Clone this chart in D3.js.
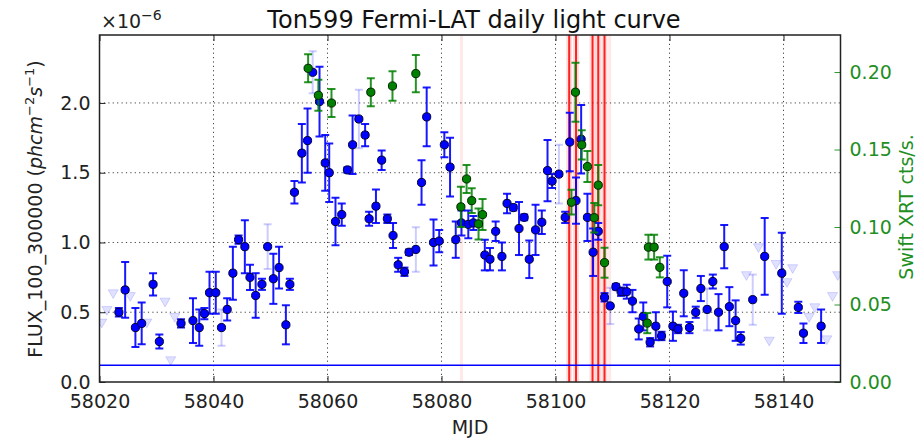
<!DOCTYPE html>
<html>
<head>
<meta charset="utf-8">
<script src="https://cdn.jsdelivr.net/npm/d3@7"></script>
<style>
  body { margin: 0; background: #fff; }
  svg { display: block; }
  text { font-family: "DejaVu Sans", sans-serif; }
</style>
</head>
<body>
<svg id="chart" width="916" height="443"></svg>
<script>
// Fermi-LAT daily fluxes (units of 1e-6 ph cm^-2 s^-1), significant detections
const fermiMjd = [58023.4,58024.5,58026.3,58027.4,58029.4,58030.5,58034.3,58036.4,58037.5,58038.4,
  58039.3,58040.4,58042.4,58043.4,58044.4,58045.5,58046.4,58047.4,58048.5,58050.5,
  58051.5,58052.7,58053.4,58054.2,58055.5,58056.5,58058.6,58059.6,58060.3,58061.4,
  58062.5,58063.5,58064.4,58066.6,58067.3,58068.5,58069.5,58070.5,58071.5,58072.4,
  58073.5,58074.3,58076.5,58077.4,58078.6,58079.6,58080.5,58081.5,58082.5,58083.5,
  58084.7,58085.6,58087.6,58088.5,58089.5,58090.6,58091.5,58092.6,58093.6,58094.5,
  58095.4,58096.5,58097.6,58098.6,58099.4,58101.7,58102.5,58103.6,58104.5,58105.6,
  58106.6,58107.5,58108.6,58110.6,58111.5,58112.5,58113.5,58114.6,58115.4,58116.6,
  58117.6,58118.6,58119.6,58120.6,58121.5,58122.5,58123.5,58124.6,58125.5,58127.6,
  58128.6,58129.6,58130.5,58131.6,58132.5,58136.7,58139.7,58142.6,58143.5,58146.6];
const fermiFlux = [0.50,0.66,0.39,0.42,0.70,0.29,0.42,0.44,0.39,0.49,
  0.64,0.64,0.52,0.78,1.02,0.97,0.75,0.62,0.70,0.74,
  0.82,0.41,0.70,1.36,1.64,1.73,2.01,1.57,1.50,1.15,
  1.20,1.52,1.70,1.77,1.17,1.26,1.59,1.17,1.05,0.84,
  0.79,0.93,1.43,1.90,1.00,1.01,1.70,1.54,1.02,1.14,
  1.13,1.14,0.91,0.88,1.08,0.90,1.28,1.25,1.10,1.18,
  0.88,1.09,1.145,1.515,1.44,1.18,1.72,1.30,1.74,1.18,
  0.93,1.08,0.607,0.683,0.647,0.647,0.58,0.38,0.47,0.285,
  0.40,0.33,0.72,0.40,0.38,0.636,0.39,0.50,0.67,0.72,
  0.50,0.97,0.54,0.44,0.313,0.90,0.78,0.535,0.35,0.40];
const fermiErr = [0.03,0.20,0.14,0.15,0.08,0.05,0.03,0.16,0.13,0.04,
  0.15,0.15,0.08,0.19,0.03,0.19,0.09,0.16,0.04,0.18,
  0.15,0.14,0.04,0.08,0.21,0.23,0.25,0.20,0.21,0.17,
  0.08,0.02,0.21,0.08,0.05,0.12,0.07,0.03,0.09,0.05,
  0.03,0.02,0.16,0.21,0.165,0.08,0.09,0.21,0.13,0.09,
  0.10,0.05,0.11,0.08,0.07,0.10,0.07,0.02,0.19,0.02,
  0.135,0.18,0.085,0.22,0.05,0.04,0.21,0.165,0.245,0.17,
  0.17,0.06,0.03,0.02,0.03,0.05,0.08,0.075,0.10,0.03,
  0.10,0.03,0.185,0.105,0.03,0.165,0.04,0.04,0.09,0.05,
  0.13,0.155,0.14,0.145,0.045,0.275,0.29,0.04,0.07,0.12];

// Lower-significance days: marker drawn, error bar pale
const weakMjd  = [58041.4,58049.5,58057.4,58065.5,58075.5,58100.6,58109.6,58126.6,58134.6];
const weakFlux = [0.39,0.97,2.22,1.885,0.95,1.49,0.545,0.52,0.59];
const weakErr  = [0.13,0.16,0.15,0.21,0.16,0.21,0.13,0.15,0.18];

// Upper limits
const ulMjd  = [58020.4,58021.3,58022.4,58025.4,58028.3,58031.5,58032.5,58033.2,
  58133.5,58135.6,58137.5,58138.7,58140.6,58141.6,58144.5,58145.5,58147.6,58148.6,58149.5];
const ulFlux = [0.43,0.52,0.64,0.62,0.43,0.58,0.16,0.47,
  0.77,0.97,0.30,0.85,0.72,0.82,0.47,0.54,0.31,0.62,0.77];

// Swift XRT count rates (cts/s)
const xrtMjd  = [58056.6,58058.4,58060.7,58067.6,58071.4,58075.5,58083.4,58084.4,58085.3,58086.5,
  58087.2,58102.8,58103.5,58104.6,58105.6,58106.8,58107.5,58108.6,58116.1,58116.3,58117.3,58118.3];
const xrtRate = [0.2024,0.185,0.180,0.187,0.191,0.199,0.113,0.131,0.117,0.102,
  0.108,0.116,0.187,0.153,0.139,0.106,0.127,0.077,0.038,0.087,0.087,0.074];
const xrtErr  = [0.009,0.010,0.009,0.009,0.0095,0.012,0.013,0.009,0.008,0.010,
  0.010,0.008,0.019,0.0095,0.010,0.0095,0.013,0.0097,0.0065,0.008,0.008,0.0065];

// Marked epochs
const flareLines = [58102.4,58103.6,58106.5,58107.5,58108.6];
const paleLines  = [58083.5,58109.5];
const baseline   = 0.12;

const xTicks  = [58020,58040,58060,58080,58100,58120,58140];
const yTicks  = [0.0,0.5,1.0,1.5,2.0];
const yRTicks = [0.00,0.05,0.10,0.15,0.20];

const L = 99.5, R = 840.5, T = 35, B = 382;
const BLUE = "#0000ff", GREEN = "#008000", GTXT = "#1f8f1f";

const svg = d3.select("#chart");
const x  = d3.scaleLinear().domain([58020,58150]).range([L,R]);
const y  = d3.scaleLinear().domain([0,2.487]).range([B,T]);
const yR = d3.scaleLinear().domain([0,0.2239]).range([B,T]);

// grid
const grid = svg.append("g").attr("stroke","#444").attr("stroke-width",1)
  .attr("stroke-dasharray","1.2,3.2");
grid.selectAll("line.v").data(xTicks.slice(1)).join("line")
  .attr("x1",d=>x(d)).attr("x2",d=>x(d)).attr("y1",T).attr("y2",B);
grid.selectAll("line.h").data(yTicks.slice(1)).join("line")
  .attr("x1",L).attr("x2",R).attr("y1",d=>y(d)).attr("y2",d=>y(d));

svg.append("clipPath").attr("id","plot")
  .append("rect").attr("x",L).attr("y",T).attr("width",R-L).attr("height",B-T);
const plot = svg.append("g").attr("clip-path","url(#plot)");

// epoch markers
plot.selectAll("line.pale").data(paleLines).join("line")
  .attr("x1",d=>x(d)).attr("x2",d=>x(d)).attr("y1",T).attr("y2",B)
  .attr("stroke","#ff0000").attr("stroke-opacity",0.09).attr("stroke-width",3);
plot.selectAll("line.halo").data(flareLines).join("line")
  .attr("x1",d=>x(d)).attr("x2",d=>x(d)).attr("y1",T).attr("y2",B)
  .attr("stroke","#ff0000").attr("stroke-opacity",0.13).attr("stroke-width",6);
plot.selectAll("line.flare").data(flareLines).join("line")
  .attr("x1",d=>x(d)).attr("x2",d=>x(d)).attr("y1",T).attr("y2",B)
  .attr("stroke","#ff0000").attr("stroke-opacity",0.85).attr("stroke-width",2);

// baseline
plot.append("line").attr("x1",L).attr("x2",R).attr("y1",y(baseline)).attr("y2",y(baseline))
  .attr("stroke",BLUE).attr("stroke-width",1.6);

function errorBars(g, xs, vs, es, scale, color, opacity) {
  const d = xs.map((m,i)=>({m, v:vs[i], e:es[i]}));
  const eg = g.append("g").attr("stroke",color).attr("stroke-width",2).attr("stroke-opacity",opacity);
  eg.selectAll("line.bar").data(d).join("line")
    .attr("x1",p=>x(p.m)).attr("x2",p=>x(p.m))
    .attr("y1",p=>scale(p.v+p.e)).attr("y2",p=>scale(p.v-p.e));
  eg.selectAll("line.capt").data(d).join("line")
    .attr("x1",p=>x(p.m)-4).attr("x2",p=>x(p.m)+4)
    .attr("y1",p=>scale(p.v+p.e)).attr("y2",p=>scale(p.v+p.e));
  eg.selectAll("line.capb").data(d).join("line")
    .attr("x1",p=>x(p.m)-4).attr("x2",p=>x(p.m)+4)
    .attr("y1",p=>scale(p.v-p.e)).attr("y2",p=>scale(p.v-p.e));
}
function markers(g, xs, vs, scale, fill, edge) {
  g.append("g").selectAll("circle").data(xs.map((m,i)=>({m, v:vs[i]}))).join("circle")
    .attr("cx",p=>x(p.m)).attr("cy",p=>scale(p.v)).attr("r",4.1)
    .attr("fill",fill).attr("stroke",edge).attr("stroke-width",1);
}

// upper limits
const tri = d3.symbol().type(d3.symbolTriangle).size(44);
plot.append("g").selectAll("path").data(ulMjd.map((m,i)=>({m, v:ulFlux[i]}))).join("path")
  .attr("d",tri).attr("transform",p=>`translate(${x(p.m)},${y(p.v)}) rotate(180)`)
  .attr("fill",BLUE).attr("fill-opacity",0.12).attr("stroke",BLUE).attr("stroke-opacity",0.14);

// Fermi fluxes
errorBars(plot, weakMjd, weakFlux, weakErr, y, BLUE, 0.2);
errorBars(plot, fermiMjd, fermiFlux, fermiErr, y, BLUE, 0.9);
markers(plot, weakMjd, weakFlux, y, BLUE, "#000033");
markers(plot, fermiMjd, fermiFlux, y, BLUE, "#000033");

// Swift XRT
errorBars(plot, xrtMjd, xrtRate, xrtErr, yR, GREEN, 0.85);
markers(plot, xrtMjd, xrtRate, yR, GREEN, "#002200");

// axes
const FS = 19;
function styleAxis(g, color) {
  g.select(".domain").remove();
  g.selectAll(".tick line").attr("stroke",color).attr("stroke-width",1);
  g.selectAll(".tick text").attr("fill",color).attr("font-size",FS)
    .attr("font-family","DejaVu Sans, sans-serif");
}
const gx = svg.append("g").attr("transform",`translate(0,${B})`)
  .call(d3.axisBottom(x).tickValues(xTicks).tickFormat(d3.format("d")).tickSize(-6).tickPadding(13));
styleAxis(gx,"#222");
const gxt = svg.append("g").attr("transform",`translate(0,${T})`)
  .call(d3.axisTop(x).tickValues(xTicks).tickFormat("").tickSize(-6));
styleAxis(gxt,"#222");
const gy = svg.append("g").attr("transform",`translate(${L},0)`)
  .call(d3.axisLeft(y).tickValues(yTicks).tickFormat(d3.format(".1f")).tickSize(-6).tickPadding(9));
styleAxis(gy,"#222");
const gyr = svg.append("g").attr("transform",`translate(${R},0)`)
  .call(d3.axisRight(yR).tickValues(yRTicks).tickFormat(d3.format(".2f")).tickSize(-6).tickPadding(9));
styleAxis(gyr,"#2a9a2a");
gyr.selectAll(".tick text").attr("fill",GTXT);

// frame
svg.append("rect").attr("x",L).attr("y",T).attr("width",R-L).attr("height",B-T)
  .attr("fill","none").attr("stroke","#222").attr("stroke-width",1.5);

// texts
svg.append("text").attr("x",(L+R)/2 + 4).attr("y",28).attr("text-anchor","middle")
  .attr("font-size",24).attr("fill","#111").text("Ton599 Fermi-LAT daily light curve");

const off = svg.append("text").attr("x",101).attr("y",28).attr("font-size",FS).attr("fill","#222");
off.append("tspan").text("×10");
off.append("tspan").attr("dy",-8).attr("font-size",14).text("−6");

svg.append("text").attr("x",(L+R)/2).attr("y",434).attr("text-anchor","middle")
  .attr("font-size",FS).attr("fill","#222").text("MJD");

const yl = svg.append("text").attr("transform","translate(42,209) rotate(-90)")
  .attr("text-anchor","middle").attr("font-size",19).attr("fill","#222");
yl.append("tspan").text("FLUX_100_300000 (");
yl.append("tspan").attr("font-style","italic").text("phcm");
yl.append("tspan").attr("dy",-8).attr("font-size",13).text("−2");
yl.append("tspan").attr("dy",8).attr("font-style","italic").text("s");
yl.append("tspan").attr("dy",-8).attr("font-size",13).text("−1");
yl.append("tspan").attr("dy",8).text(")");

svg.append("text").attr("transform","translate(913,207) rotate(-90)")
  .attr("text-anchor","middle").attr("font-size",FS).attr("fill",GTXT).text("Swift XRT cts/s.");
</script>
</body>
</html>
